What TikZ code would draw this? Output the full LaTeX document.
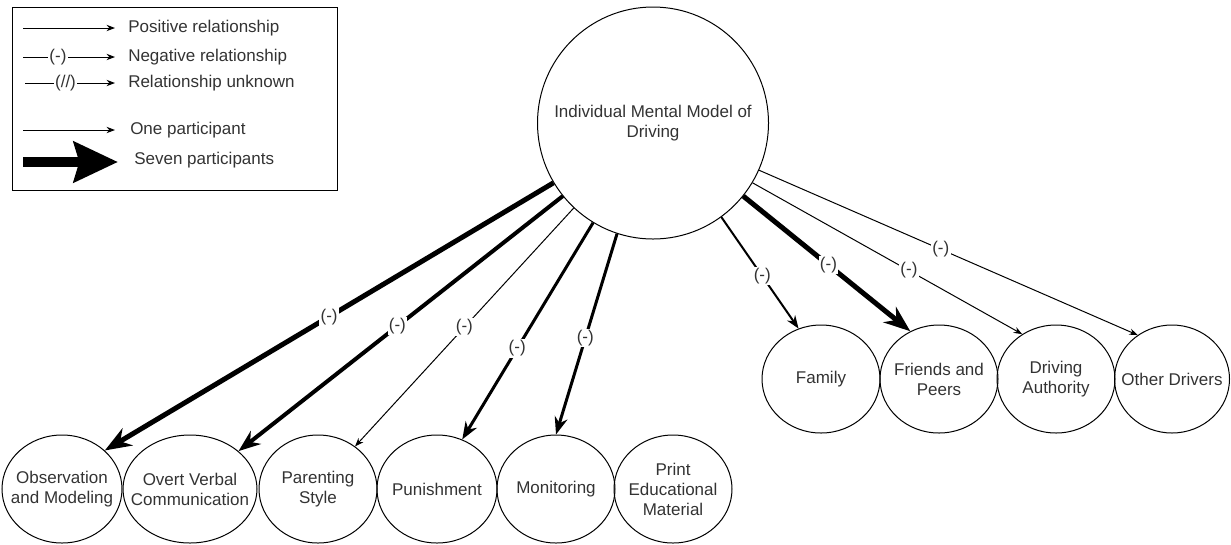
\documentclass[tikz,border=0pt]{standalone}
\usepackage{fontspec}
\setmainfont{Liberation Sans}
\usetikzlibrary{shapes.geometric,arrows.meta}
\tikzset{
    topic/.style={ellipse, draw, line width=0.75pt, inner sep=0pt, minimum width=88.5pt, minimum height=81pt},
    caption/.style={align=center, inner sep=0pt, text=black!80, font=\fontsize{12.75}{15}\selectfont},
    neg/.style={fill=white, inner sep=1pt, text=black!80, font=\fontsize{12.75}{15}\selectfont},
    legtext/.style={anchor=west, inner sep=0pt, text=black!80, font=\fontsize{12.75}{15}\selectfont}
}
\tikzset{
    w1/.style={line width=0.75pt, -{Stealth}},
    w2/.style={line width=1.5pt, -{Stealth}},
    w3/.style={line width=2.25pt, -{Stealth}},
    w4/.style={line width=3pt, -{Stealth}},
    w5/.style={line width=3.75pt, -{Stealth}}
}

\begin{document}
\begin{tikzpicture}[x=0.75pt, y=-0.75pt]
        \useasboundingbox (0,0) rectangle (1231,544);
        % legend
        \node (legend) [draw, line width=0.75pt, inner sep=0pt, minimum width=243.75pt, minimum height=137.25pt, anchor=north west] at (12,7) {};
        \coordinate (p0) at (23,28);  \coordinate (p1) at (115,28);
        \coordinate (n0) at (23,57);  \coordinate (n1) at (115,57);
        \coordinate (u0) at (25,83);  \coordinate (u1) at (115,83);
        \coordinate (o0) at (23,130); \coordinate (o1) at (115,130);
        \coordinate (s0) at (23,162); \coordinate (s1) at (118,162);
        \node (tpos) [legtext] at (128,28) {Positive relationship};
        \node (tneg) [legtext] at (128,57) {Negative relationship};
        \node (tunk) [legtext] at (128,83) {Relationship unknown};
        \node (tone) [legtext] at (130,130) {One participant};
        \node (tseven) [legtext] at (134,160) {Seven participants};
        \draw (p0) edge [w1] (p1);
        \draw (n0) edge [w1] node [neg, pos=0.38] {(-)} (n1);
        \draw (u0) edge [w1] node [neg, pos=0.45] {(//)} (u1);
        \draw (o0) edge [w1] (o1);
        \draw (s0) edge [line width=7.5pt, -{Stealth[length=33pt, width=30pt, inset=4pt]}] (s1);

        % topics
        \node (main) [topic, minimum width=173.25pt, minimum height=174pt, label={[caption]center:{Individual Mental Model of\\Driving}}] at (653,123) {};
        \node (obs) [topic, minimum width=90pt, label={[caption]center:{Observation\\and Modeling}}] at (62,489) {};
        \node (overt) [topic, minimum width=100.5pt, label={[caption]center:{Overt Verbal\\Communication}}] at (190,489) {};
        \node (parent) [topic, label={[caption]center:{Parenting\\Style}}] at (318,489) {};
        \node (punish) [topic, minimum width=90pt, label={[caption]center:{Punishment}}] at (437,489) {};
        \node (monitor) [topic, label={[caption]center:{Monitoring}}] at (556,489) {};
        \node (print) [topic, label={[caption]center:{Print\\Educational\\Material}}] at (673,489) {};
        \node (family) [topic, label={[caption]center:{Family}}] at (821,379) {};
        \node (friends) [topic, label={[caption]center:{Friends and\\Peers}}] at (939,379) {};
        \node (authority) [topic, label={[caption]center:{Driving\\Authority}}] at (1056,379) {};
        \node (others) [topic, minimum width=86.25pt, label={[caption]center:{Other Drivers}}] at (1172,379) {};

        % influences
        \draw (main.211) edge [w5] node [neg, pos=0.5] {(-)} (obs.42);
        \draw (main.219) edge [w4] node [neg, pos=0.51] {(-)} (overt.38);
        \draw (main.227) edge [w1] node [neg, pos=0.5] {(-)} (parent.49);
        \draw (main.239) edge [w3] node [neg, pos=0.58] {(-)} (punish.63);
        \draw (main.252) edge [w3] node [neg, pos=0.52] {(-)} (monitor.90);
        \draw (main.306) edge [w2] node [neg, pos=0.53] {(-)} (family.114);
        \draw (main.321) edge [w5] node [neg, pos=0.51] {(-)} (friends.121);
        \draw (main.329) edge [w1] node [neg, pos=0.58] {(-)} (authority.127);
        \draw (main.336) edge [w1] node [neg, pos=0.48] {(-)} (others.128);
\end{tikzpicture}
\end{document}
